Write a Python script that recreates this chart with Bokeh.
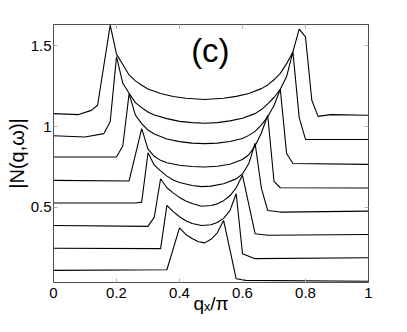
from bokeh.plotting import figure
from bokeh.models import Range1d, FixedTicker, Label, LinearAxis
from bokeh.embed import file_html
from bokeh.resources import INLINE

# ---- data (q_x/pi, |N(q,w)|) ----
c1_x = [0, 0.08, 0.12, 0.14, 0.18, 0.20, 0.22, 0.24, 0.26, 0.28, 0.30, 0.34, 0.38, 0.42, 0.48,
        0.54, 0.58, 0.62, 0.66, 0.68, 0.70, 0.72, 0.74, 0.76, 0.78, 0.80, 0.82, 0.84, 0.88, 1.0]
c1_y = [1.080, 1.074, 1.100, 1.132, 1.629, 1.449, 1.385, 1.320, 1.283, 1.256, 1.233, 1.205, 1.186, 1.175, 1.168,
        1.175, 1.187, 1.205, 1.235, 1.258, 1.290, 1.330, 1.390, 1.463, 1.604, 1.556, 1.163, 1.063, 1.074, 1.070]

c2_x = [0, 0.10, 0.16, 0.18, 0.20, 0.22, 0.24, 0.26, 0.28, 0.30, 0.32, 0.36, 0.40, 0.44, 0.48,
        0.52, 0.56, 0.60, 0.64, 0.66, 0.68, 0.70, 0.72, 0.74, 0.76, 0.78, 0.80, 1.0]
c2_y = [0.943, 0.935, 0.956, 1.030, 1.433, 1.268, 1.206, 1.148, 1.117, 1.090, 1.072, 1.049, 1.032, 1.024, 1.020,
        1.024, 1.035, 1.051, 1.080, 1.105, 1.140, 1.180, 1.231, 1.310, 1.463, 1.055, 0.920, 0.919]

c3_x = [0, 0.20, 0.22, 0.24, 0.26, 0.28, 0.30, 0.32, 0.36, 0.40, 0.44, 0.48,
        0.52, 0.56, 0.60, 0.62, 0.64, 0.66, 0.68, 0.70, 0.72, 0.74, 0.76, 1.0]
c3_y = [0.811, 0.811, 0.879, 1.204, 1.071, 1.018, 0.978, 0.953, 0.922, 0.906, 0.897, 0.894,
        0.897, 0.907, 0.926, 0.945, 0.970, 1.010, 1.060, 1.130, 1.231, 0.832, 0.770, 0.765]

c4_x = [0, 0.24, 0.28, 0.30, 0.32, 0.34, 0.36, 0.40, 0.44, 0.48,
        0.52, 0.56, 0.60, 0.62, 0.64, 0.66, 0.68, 0.70, 0.72, 1.0]
c4_y = [0.666, 0.662, 0.987, 0.860, 0.815, 0.790, 0.775, 0.760, 0.752, 0.749,
        0.753, 0.766, 0.795, 0.825, 0.880, 0.960, 1.070, 0.660, 0.620, 0.618]

c5_x = [0, 0.26, 0.28, 0.30, 0.32, 0.34, 0.36, 0.38, 0.40, 0.44, 0.47,
        0.50, 0.54, 0.58, 0.60, 0.62, 0.64, 0.66, 0.68, 0.72, 1.0]
c5_y = [0.525, 0.525, 0.531, 0.837, 0.760, 0.725, 0.692, 0.668, 0.652, 0.634, 0.627,
        0.630, 0.645, 0.675, 0.705, 0.770, 0.896, 0.616, 0.479, 0.469, 0.475]

c6_x = [0, 0.30, 0.32, 0.34, 0.36, 0.38, 0.40, 0.42, 0.44, 0.47,
        0.50, 0.52, 0.54, 0.56, 0.58, 0.60, 0.64, 0.68, 1.0]
c6_y = [0.386, 0.380, 0.438, 0.676, 0.620, 0.588, 0.560, 0.538, 0.522, 0.505,
        0.510, 0.520, 0.540, 0.570, 0.620, 0.697, 0.335, 0.325, 0.330]

c7_x = [0, 0.34, 0.36, 0.38, 0.40, 0.42, 0.44, 0.47,
        0.50, 0.52, 0.54, 0.56, 0.58, 0.60, 0.64, 1.0]
c7_y = [0.245, 0.242, 0.511, 0.472, 0.440, 0.415, 0.398, 0.386,
        0.390, 0.404, 0.430, 0.478, 0.583, 0.211, 0.180, 0.186]

c8_x = [0, 0.36, 0.40, 0.42, 0.44, 0.46, 0.48, 0.50, 0.52, 0.54, 0.58, 0.61, 1.0]
c8_y = [0.107, 0.111, 0.371, 0.330, 0.305, 0.285, 0.278, 0.300, 0.340, 0.417, 0.055, 0.045, 0.040]

curves = [(c1_x, c1_y), (c2_x, c2_y), (c3_x, c3_y), (c4_x, c4_y),
          (c5_x, c5_y), (c6_x, c6_y), (c7_x, c7_y), (c8_x, c8_y)]

x_ticks = [0, 0.2, 0.4, 0.6, 0.8, 1.0]
x_tick_labels = ["0", "0.2", "0.4", "0.6", "0.8", "1"]
y_ticks = [0.5, 1.0, 1.5]
y_tick_labels = ["0.5", "1", "1.5"]

FONT = "Liberation Sans"

p = figure(width=400, height=324, output_backend="svg", toolbar_location=None,
           x_range=Range1d(0, 1), y_range=Range1d(0.032, 1.633),
           min_border_left=53, min_border_right=32, min_border_top=24, min_border_bottom=42)
p.background_fill_color = "white"
p.border_fill_color = "white"
p.outline_line_color = "#4d4d4d"
p.outline_line_width = 1
p.xgrid.visible = False
p.ygrid.visible = False

for xs, ys in curves:
    p.line(xs, ys, line_color="black", line_width=1.1)

def style_axis(ax, ticks, labels, show_labels=True):
    ax.ticker = FixedTicker(ticks=ticks)
    ax.major_label_overrides = {t: (l if show_labels else "") for t, l in zip(ticks, labels)}
    ax.axis_line_color = "#4d4d4d"
    ax.major_tick_in = 4
    ax.major_tick_out = 0
    ax.major_tick_line_color = "#b0b0b0"
    ax.minor_tick_line_color = None
    ax.major_label_text_font = FONT
    ax.major_label_text_color = "black"
    if show_labels:
        ax.major_label_text_font_size = "15px"
    else:
        ax.major_label_text_font_size = "1px"
        ax.major_label_standoff = 0

xa = p.xaxis[0]
style_axis(xa, x_ticks, x_tick_labels)
xa.major_label_standoff = 5
xa.axis_label = "q\u2093/\u03c0"
xa.axis_label_text_font = FONT
xa.axis_label_text_font_size = "19px"
xa.axis_label_text_font_style = "normal"
xa.axis_label_text_color = "black"
xa.axis_label_standoff = -8

ya = p.yaxis[0]
style_axis(ya, y_ticks, y_tick_labels)
ya.major_label_standoff = 2
ya.axis_label = "|N(q,\u03c9)|"
ya.axis_label_text_font = FONT
ya.axis_label_text_font_size = "20px"
ya.axis_label_text_font_style = "normal"
ya.axis_label_text_color = "black"
ya.axis_label_standoff = 0

top_ax = LinearAxis()
style_axis(top_ax, x_ticks, x_tick_labels, show_labels=False)
p.add_layout(top_ax, "above")
right_ax = LinearAxis()
style_axis(right_ax, y_ticks, y_tick_labels, show_labels=False)
p.add_layout(right_ax, "right")

# panel label
p.add_layout(Label(x=0.498, y=1.472, text="(c)", text_font=FONT, text_font_size="33px",
                   text_align="center", text_baseline="middle", text_color="black"))

open("out.html", "w").write(file_html(p, INLINE))
